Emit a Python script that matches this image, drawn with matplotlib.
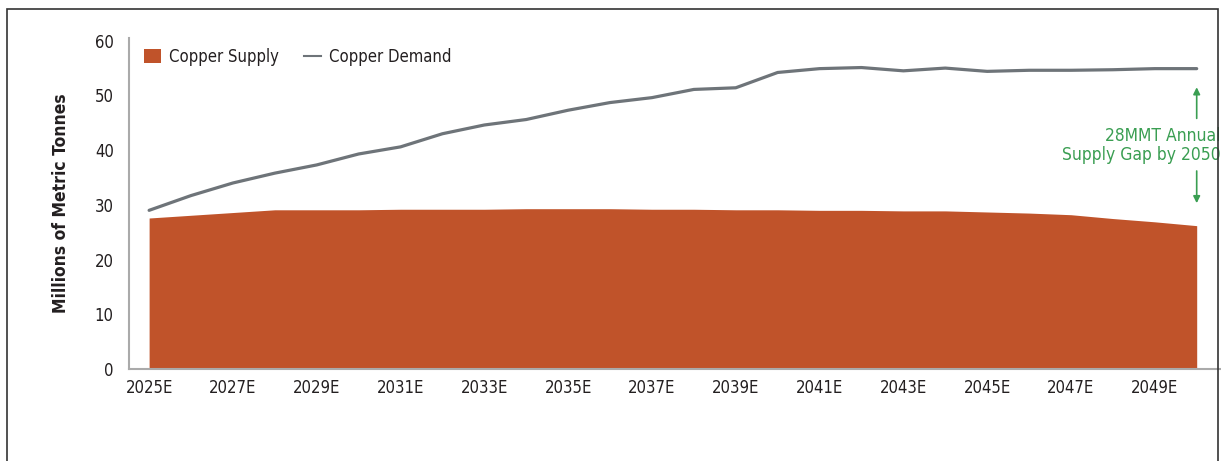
import matplotlib
matplotlib.use("Agg")
import matplotlib.pyplot as plt
from matplotlib.patches import Patch, Rectangle
from matplotlib.lines import Line2D

plt.rcParams["font.family"] = ["DejaVu Sans"]
plt.rcParams["font.stretch"] = "condensed"

years = list(range(2025, 2051))
supply = [27.6, 28.1, 28.6, 29.1, 29.1, 29.1, 29.2, 29.2, 29.2, 29.3, 29.3, 29.3, 29.2, 29.2,
          29.1, 29.1, 29.0, 29.0, 28.9, 28.9, 28.7, 28.5, 28.2, 27.5, 26.9, 26.2]
demand = [29.0, 31.7, 34.0, 35.8, 37.3, 39.3, 40.6, 43.0, 44.6, 45.6, 47.3, 48.7, 49.6,
          51.1, 51.4, 54.2, 54.9, 55.1, 54.5, 55.0, 54.4, 54.6, 54.6, 54.7, 54.9, 54.9]
tick_years = list(range(2025, 2050, 2))
tick_labels = [f"{y}E" for y in tick_years]
gap_text = "28MMT Annual\nSupply Gap by 2050"

orange = "#c0532a"
grey = "#6e7479"
green = "#3a9e52"
txt = "#231f20"

fig = plt.figure(figsize=(12.21, 4.61), dpi=100)
ax = fig.add_axes([129 / 1221, 92 / 461, 1 - 129 / 1221, (369 - 38) / 461])

ax.fill_between(years, 0, supply, color=orange, linewidth=0, zorder=2)
ax.plot(years, demand, color=grey, linewidth=2.3, solid_capstyle="round", zorder=3)

ax.set_xlim(2024.52, 2050.58)
ax.set_ylim(0, 60.5)
ax.set_yticks(range(0, 61, 10))
ax.set_xticks(tick_years)
ax.set_xticklabels(tick_labels)
ax.tick_params(axis="both", length=0, labelsize=12, colors=txt)
ax.tick_params(axis="y", pad=11)
ax.tick_params(axis="x", pad=7)
for s in ["top", "right"]:
    ax.spines[s].set_visible(False)
for s in ["left", "bottom"]:
    ax.spines[s].set_color("#aaaaaa")
    ax.spines[s].set_linewidth(1.5)

ax.set_ylabel("Millions of Metric Tonnes", fontsize=12.5, fontweight="bold", color=txt, labelpad=18)

handles = [Patch(facecolor=orange, edgecolor="none"),
           Line2D([0], [0], color=grey, linewidth=1.5)]
ax.legend(handles, ["Copper Supply", "Copper Demand"], loc="upper left",
          bbox_to_anchor=(0.0, 1.015), ncol=2, frameon=False, fontsize=12,
          handlelength=1.0, handleheight=0.9, handletextpad=0.5, columnspacing=1.5,
          labelcolor=txt)

# gap annotation
ax.annotate("", xy=(2050, 52.0), xytext=(2050, 45.3),
            arrowprops=dict(arrowstyle="-|>", color=green, lw=1.2, mutation_scale=10))
ax.annotate("", xy=(2050, 29.8), xytext=(2050, 36.7),
            arrowprops=dict(arrowstyle="-|>", color=green, lw=1.2, mutation_scale=10))
ax.text(2050.56, 40.8, gap_text, ha="right", va="center", color=green,
        fontsize=12.5, linespacing=1.05)

# outer frame
fig.add_artist(Rectangle((7 / 1221, -0.1), (1218 - 7) / 1221, 1.1 - 9 / 461,
                         transform=fig.transFigure, fill=False, edgecolor="#333333", linewidth=1.2))

fig.savefig("out.png", dpi=100)
